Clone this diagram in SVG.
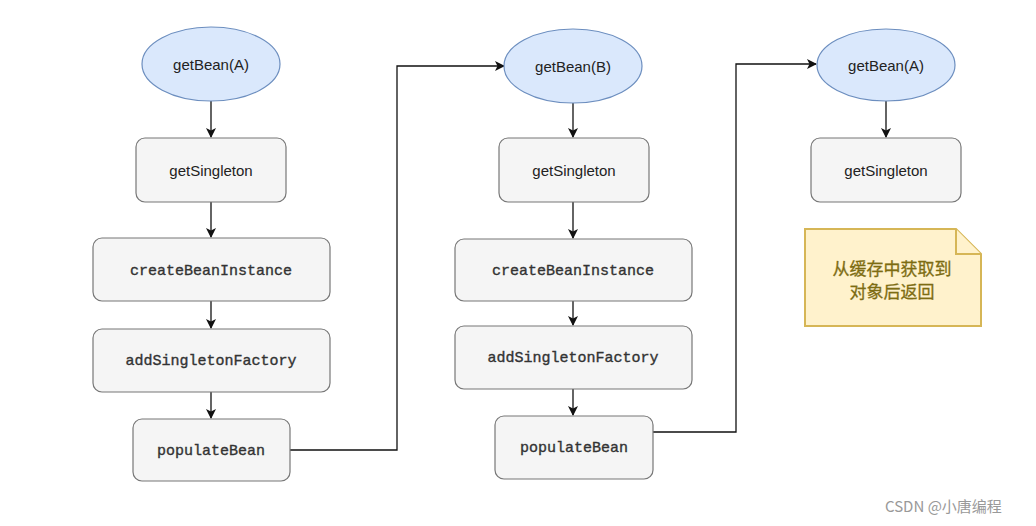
<svg xmlns="http://www.w3.org/2000/svg" width="1036" height="526" viewBox="0 0 1036 526">
<style>
.ell{fill:#dae8fc;stroke:#6c8ebf;stroke-width:1.2}
.box{fill:#f5f5f5;stroke:#777;stroke-width:1.2}
.sans{font-family:"Liberation Sans",Arial,sans-serif;font-size:15px;fill:#222;text-anchor:middle;dominant-baseline:central}
.mono{font-family:"Liberation Mono","Courier New",monospace;font-size:15px;fill:#333;stroke:#333;stroke-width:0.35;text-anchor:middle;dominant-baseline:central}
.edge{fill:none;stroke:#111;stroke-width:1.3}
.note{fill:#fff2cc;stroke:#d6b656;stroke-width:2}
.cjk{font-family:"Noto Sans CJK SC","Noto Sans",sans-serif;font-size:17px;fill:#7d6c12;stroke:#7d6c12;stroke-width:0.3;text-anchor:middle;dominant-baseline:central}
.wm{font-family:"Noto Sans CJK SC","Liberation Sans",sans-serif;font-size:15px;fill:#999;dominant-baseline:central}
</style>
<defs>
<marker id="arr" markerWidth="10" markerHeight="10" refX="9" refY="5" orient="auto" markerUnits="userSpaceOnUse">
<path d="M0,0 L10,5 L0,10 L2.5,5 Z" fill="#111"/>
</marker>
</defs>
<rect width="1036" height="526" fill="#fff"/>
<g id="connectors">
<path class="edge" d="M211,101 V137" marker-end="url(#arr)"/>
<path class="edge" d="M211,202 V237" marker-end="url(#arr)"/>
<path class="edge" d="M211,301 V328" marker-end="url(#arr)"/>
<path class="edge" d="M211,392 V418" marker-end="url(#arr)"/>
<path class="edge" d="M290,450 H397 V66 H504" marker-end="url(#arr)"/>
<path class="edge" d="M573,103 V137" marker-end="url(#arr)"/>
<path class="edge" d="M573,202 V238" marker-end="url(#arr)"/>
<path class="edge" d="M573,301 V325" marker-end="url(#arr)"/>
<path class="edge" d="M573,389 V415" marker-end="url(#arr)"/>
<path class="edge" d="M653,432 H736 V64 H816" marker-end="url(#arr)"/>
<path class="edge" d="M886,101 V137" marker-end="url(#arr)"/>
</g>
<g id="n1"><ellipse class="ell" cx="211" cy="64" rx="69" ry="37"/><text class="sans" x="211" y="64">getBean(A)</text></g>
<g id="n2"><rect class="box" x="136" y="138" width="150" height="64" rx="9"/><text class="sans" x="211" y="170">getSingleton</text></g>
<g id="n3"><rect class="box" x="93" y="238" width="237" height="63" rx="9"/><text class="mono" x="211" y="271">createBeanInstance</text></g>
<g id="n4"><rect class="box" x="93" y="329" width="237" height="63" rx="9"/><text class="mono" x="211" y="361">addSingletonFactory</text></g>
<g id="n5"><rect class="box" x="133" y="419" width="157" height="62" rx="9"/><text class="mono" x="211" y="451">populateBean</text></g>
<g id="n6"><ellipse class="ell" cx="573" cy="66" rx="69" ry="37"/><text class="sans" x="573" y="66">getBean(B)</text></g>
<g id="n7"><rect class="box" x="499" y="138" width="150" height="64" rx="9"/><text class="sans" x="574" y="170">getSingleton</text></g>
<g id="n8"><rect class="box" x="455" y="239" width="237" height="62" rx="9"/><text class="mono" x="573" y="271">createBeanInstance</text></g>
<g id="n9"><rect class="box" x="455" y="326" width="237" height="63" rx="9"/><text class="mono" x="573" y="358">addSingletonFactory</text></g>
<g id="n10"><rect class="box" x="495" y="416" width="158" height="63" rx="9"/><text class="mono" x="574" y="448">populateBean</text></g>
<g id="n11"><ellipse class="ell" cx="886" cy="65" rx="69" ry="36"/><text class="sans" x="886" y="65">getBean(A)</text></g>
<g id="n12"><rect class="box" x="811" y="138" width="150" height="64" rx="9"/><text class="sans" x="886" y="170">getSingleton</text></g>
<g id="note"><path class="note" d="M805,229 H956 L981,254 V326 H805 Z"/><path class="note" d="M956,229 V254 H981" fill="none"/><text class="cjk" x="892" y="267">从缓存中获取到</text><text class="cjk" x="892" y="290">对象后返回</text></g>
<text class="wm" x="885" y="505">CSDN @小唐编程</text>
</svg>
